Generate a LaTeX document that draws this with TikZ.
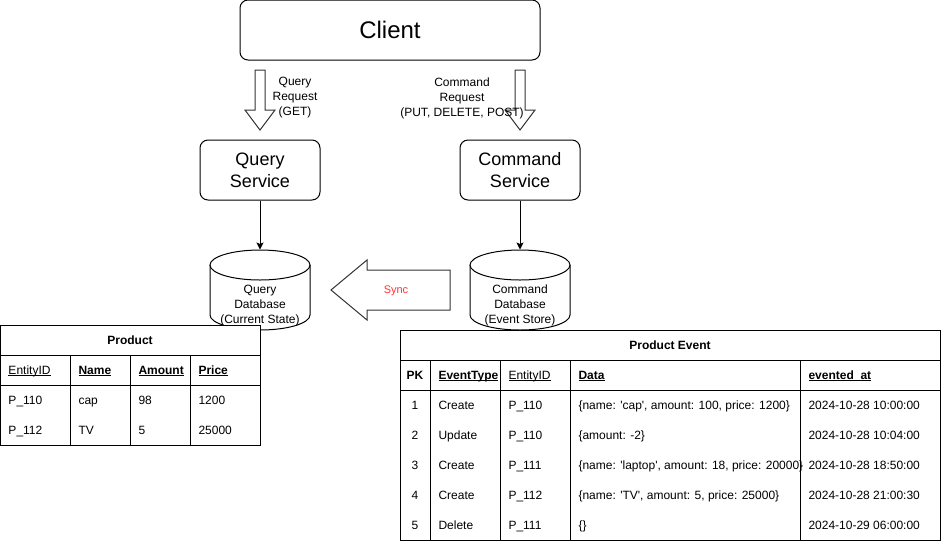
\documentclass[tikz,border=0pt]{standalone}
\usepackage{fontspec}
\setmainfont{Liberation Sans}
\usetikzlibrary{positioning,arrows.meta}
\definecolor{syncred}{HTML}{FF3333}
\newcommand{\sq}{\textquotesingle}
\newcommand{\ulin}[1]{\setbox0\hbox{#1}\rlap{\rule[-2pt]{\wd0}{0.9pt}}\box0}
% cylinder outline, #1 = centre x
\newcommand{\drawdb}[1]{%
  \draw[fill=white] (#1-50,265) -- (#1-50,315) arc[start angle=180, end angle=0, x radius=50, y radius=15] -- (#1+50,265);
  \draw[fill=white] (#1,265) ellipse[x radius=50, y radius=15];
}

\begin{document}
\begin{tikzpicture}[x=1pt, y=-1pt, line width=1pt, font=\fontsize{12}{15}\selectfont,
	box/.style = {draw, rounded corners=8pt, fill=white, minimum width=120pt, minimum height=60pt, align=center, inner sep=0pt, font=\fontsize{18}{22}\selectfont},
	reqtext/.style = {align=center, inner sep=0pt},
	db/.style = {minimum width=100pt, minimum height=80pt, inner sep=0pt},
	cell/.style = {anchor=west, inner sep=0pt, text height=10pt, text depth=1.4pt},
	headcell/.style = {cell, font=\fontsize{12}{15}\selectfont\bfseries},
	fat/.style = {draw=black!80, fill=white, line join=miter},
	flow/.style = {-{Stealth[length=7pt, width=7pt, inset=1.5pt]}}]

	\useasboundingbox (0,0) rectangle (942,542);

	\node[box, minimum width=300pt, font=\fontsize{24}{28}\selectfont] (client) at (390,30) {Client};
	\node[box] (qs) at (260,170) {Query\\Service};
	\node[box] (cs) at (520,170) {Command\\Service};

	% request arrows
	\draw[fat] (255,70) -- (265,70) -- (265,110) -- (275,110) -- (260,130) -- (245,110) -- (255,110) -- cycle;
	\draw[fat] (515,70) -- (525,70) -- (525,110) -- (535,110) -- (520,130) -- (505,110) -- (515,110) -- cycle;
	\node[reqtext] (qreq) at (295,98) {Query\\Request\\(GET)};
	\node[reqtext] (creq) at (462,98) {Command\\Request\\(PUT, DELETE, POST)};

	% databases
	\drawdb{260}
	\drawdb{520}
	\node[db] (qdb) at (260,290) {};
	\node[db] (cdb) at (520,290) {};
	\node[reqtext] (qdbtext) at (260,305.5) {Query\\Database\\(Current State)};
	\node[reqtext] (cdbtext) at (520,305.5) {Command\\Database\\(Event Store)};

	\draw[flow] (qs) -- (qdb.north);
	\draw[flow] (cs) -- (cdb.north);

	% sync arrow
	\draw[fat] (450,270) -- (367,270) -- (367,260) -- (331,290) -- (367,320) -- (367,310) -- (450,310) -- cycle;
	\node[text=syncred, font=\fontsize{11}{13}\selectfont, inner sep=0pt, text height=9pt, text depth=1.2pt] (sync) at (396,290) {Sync};

	% Product table
	\draw[fill=white] (0,325) rectangle (260,445);
	\draw (0,355) -- (260,355);
	\draw (0,385) -- (260,385);
	\foreach \x in {70,130,190}
		\draw (\x,355) -- (\x,445);
	\node[headcell, anchor=center] (ptitle) at (130,340) {Product};
	\node[cell] (ph1) at (8,370) {\ulin{EntityID}};
	\node[headcell] (ph2) at (78,370) {\ulin{Name}};
	\node[headcell] (ph3) at (138,370) {\ulin{Amount}};
	\node[headcell] (ph4) at (198,370) {\ulin{Price}};
	\foreach \y/\a/\b/\c/\d [count=\i] in {400/P\_110/cap/98/1200, 430/P\_112/TV/5/25000} {
		\node[cell] (pa\i) at (8,\y) {\a};
		\node[cell] (pb\i) at (78,\y) {\b};
		\node[cell] (pc\i) at (138,\y) {\c};
		\node[cell] (pd\i) at (198,\y) {\d};
	}

	% Product Event table
	\draw[fill=white] (400,330) rectangle (940,540);
	\draw (400,360) -- (940,360);
	\draw (400,390) -- (940,390);
	\foreach \x in {430,500,570,800}
		\draw (\x,360) -- (\x,540);
	\node[headcell, anchor=center] (etitle) at (670,345) {Product Event};
	\node[headcell, anchor=center] (eh1) at (415,375) {PK};
	\node[headcell] (eh2) at (438,375) {\ulin{EventType}};
	\node[cell] (eh3) at (508,375) {\ulin{EntityID}};
	\node[headcell] (eh4) at (578,375) {\ulin{Data}};
	\node[headcell] (eh5) at (808,375) {\ulin{evented\_at}};
	\foreach \y/\k/\t/\e/\d/\w in {
		405/1/Create/P\_110/{\{name: \sq cap\sq, amount: 100, price: 1200\}}/2024-10-28 10:00:00,
		435/2/Update/P\_110/{\{amount: -2\}}/2024-10-28 10:04:00,
		465/3/Create/P\_111/{\{name: \sq laptop\sq, amount: 18, price: 20000\}}/2024-10-28 18:50:00,
		495/4/Create/P\_112/{\{name: \sq TV\sq, amount: 5, price: 25000\}}/2024-10-28 21:00:30,
		525/5/Delete/P\_111/{\{\}}/2024-10-29 06:00:00} {
		\node[cell, anchor=center] (ek\k) at (415,\y) {\k};
		\node[cell] (et\k) at (438,\y) {\t};
		\node[cell] (ee\k) at (508,\y) {\e};
		\node[cell] (ed\k) at (578,\y) {\d};
		\node[cell] (ew\k) at (808,\y) {\w};
	}

\end{tikzpicture}
\end{document}
